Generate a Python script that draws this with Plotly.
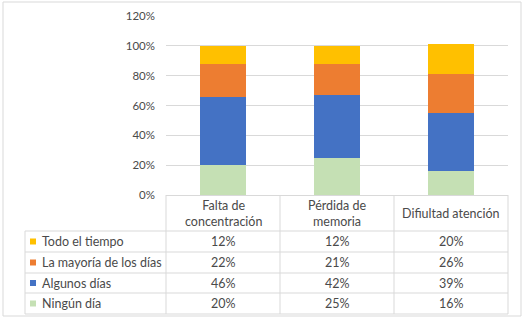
import plotly.graph_objects as go

categories = ["Falta de concentración", "Pérdida de memoria", "Difiultad atención"]
header_labels = ["Falta de<br>concentración", "Pérdida de<br>memoria", "Difiultad atención"]
series_names = ["Ningún día", "Algunos días", "La mayoría de los días", "Todo el tiempo"]
ningun = [0.20, 0.25, 0.16]
algunos = [0.46, 0.42, 0.39]
mayoria = [0.22, 0.21, 0.26]
todo = [0.12, 0.12, 0.20]
colors = ["#C5E0B4", "#4472C4", "#ED7D31", "#FFC000"]
y_ticks = [0, 0.2, 0.4, 0.6, 0.8, 1.0, 1.2]

series_values = [ningun, algunos, mayoria, todo]

W, H = 523, 322
L, R, T, B = 166, 15, 16, 127
PW, PH = W - L - R, H - T - B
FONT = "Lato"
TXT = "#4a4a4a"
LINE = "#D9D9D9"
FS = 12.5


def px(x):
    return (x - L) / PW


def py(y):
    return (H - B - y) / PH


fig = go.Figure()
for name, vals, col in zip(series_names, series_values, colors):
    fig.add_trace(go.Bar(x=categories, y=vals, name=name, marker_color=col,
                         marker_line_width=0, showlegend=False, hoverinfo="skip"))

shapes = []
annotations = []

# outer frame
shapes.append(dict(type="rect", xref="paper", yref="paper", x0=px(3), x1=px(521),
                   y0=py(316), y1=py(2), line=dict(color="#D9D9D9", width=1)))

# table geometry
row_lines = [231, 252, 273, 293, 314]
col_edges = [166, 280, 394, 508]
for yl in row_lines:
    shapes.append(dict(type="line", xref="paper", yref="paper", x0=px(25), x1=px(508),
                       y0=py(yl), y1=py(yl), line=dict(color=LINE, width=1)))
for xc in col_edges:
    shapes.append(dict(type="line", xref="paper", yref="paper", x0=px(xc), x1=px(xc),
                       y0=py(195), y1=py(314), line=dict(color=LINE, width=1)))
shapes.append(dict(type="line", xref="paper", yref="paper", x0=px(25), x1=px(25),
                   y0=py(231), y1=py(314), line=dict(color=LINE, width=1)))

# header
for cat, lab in zip(categories, header_labels):
    annotations.append(dict(x=cat, xref="x", y=py(213), yref="paper", text=lab,
                            showarrow=False, font=dict(family=FONT, size=FS, color=TXT),
                            xanchor="center", yanchor="middle"))

# rows (top to bottom: reverse of stack order)
order = list(range(len(series_names)))[::-1]
for i, s in enumerate(order):
    ytop, ybot = row_lines[i], row_lines[i + 1]
    yc = (ytop + ybot) / 2
    shapes.append(dict(type="rect", xref="paper", yref="paper", x0=px(30), x1=px(36),
                       y0=py(yc + 3), y1=py(yc - 3), fillcolor=colors[s], line_width=0))
    annotations.append(dict(x=px(40), xref="paper", y=py(yc), yref="paper",
                            text=series_names[s], showarrow=False, xanchor="left",
                            yanchor="middle", font=dict(family=FONT, size=FS, color=TXT)))
    for cat, v in zip(categories, series_values[s]):
        annotations.append(dict(x=cat, xref="x", y=py(yc), yref="paper",
                                text=f"{round(v * 100)}%", showarrow=False,
                                xanchor="center", yanchor="middle",
                                font=dict(family=FONT, size=FS, color=TXT)))

fig.update_layout(
    width=W, height=H, barmode="stack", bargap=0.6,
    margin=dict(l=L, r=R, t=T, b=B, autoexpand=False),
    plot_bgcolor="white", paper_bgcolor="white",
    xaxis=dict(showticklabels=False, showgrid=False, showline=True, linecolor=LINE,
               ticks="", fixedrange=True),
    yaxis=dict(range=[0, 1.2], tickvals=y_ticks, tickformat=".0%", gridcolor=LINE,
               zeroline=False, showline=False, ticks="", ticklabelstandoff=10,
               fixedrange=True, tickfont=dict(family=FONT, size=11.5, color=TXT)),
    shapes=shapes, annotations=annotations,
)

fig.write_html("out.html", config={"displayModeBar": False, "staticPlot": True})

with open("out.html", "r", encoding="utf-8") as f:
    html = f.read()
html = html.replace("<head>", "<head><style>html,body{margin:0;padding:0;overflow:hidden;}</style>", 1)
with open("out.html", "w", encoding="utf-8") as f:
    f.write(html)
